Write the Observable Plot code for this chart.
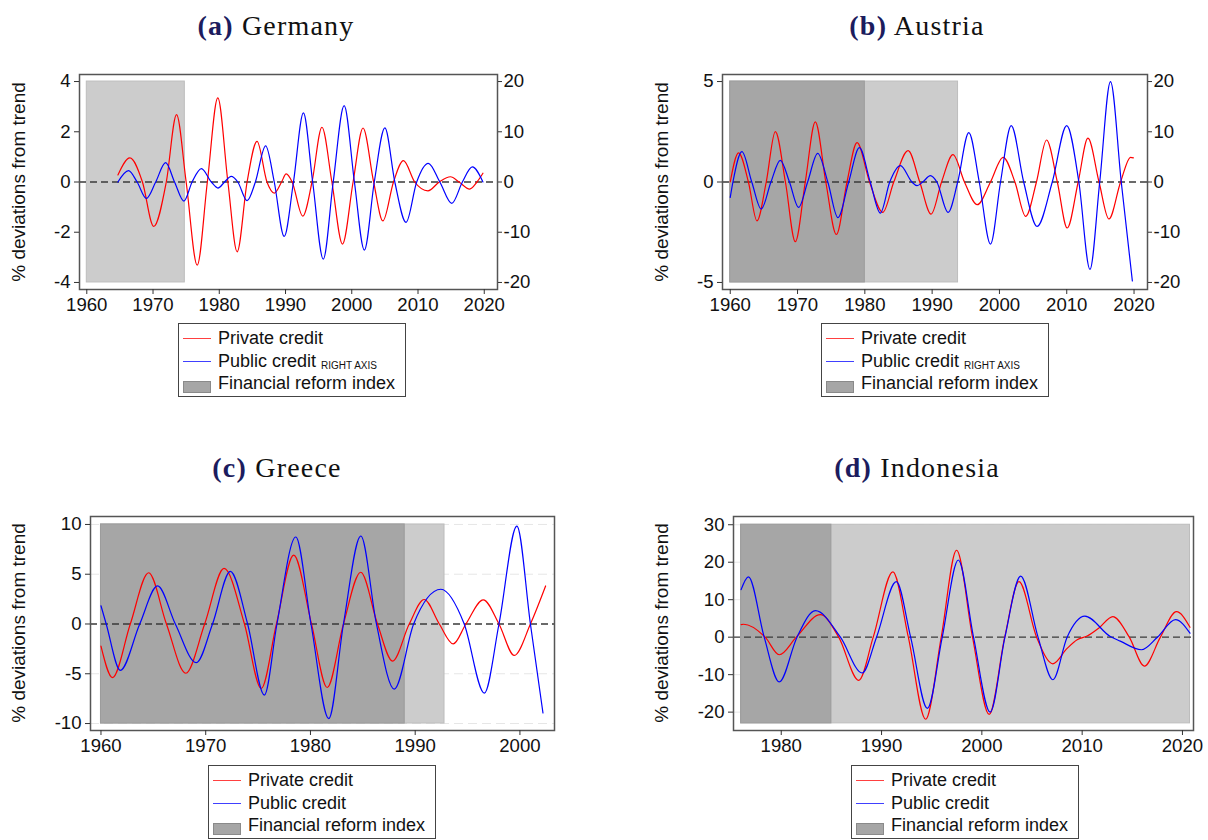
<!DOCTYPE html>
<html><head><meta charset="utf-8">
<script src="https://cdn.jsdelivr.net/npm/d3@7"></script>
<script src="https://cdn.jsdelivr.net/npm/@observablehq/plot@0.6"></script>
<style>
body{margin:0;background:#fff;}
#root{position:relative;width:1208px;height:840px;overflow:hidden;background:#fff;font-family:"Liberation Sans",Arial,sans-serif;color:#111;}
.panel{position:absolute;}
.title{position:absolute;font-family:"Liberation Serif","Times New Roman",serif;font-size:28px;line-height:28px;color:#111;white-space:nowrap;transform:translateX(-50%);letter-spacing:1.2px;}
.title b{color:#1c1c5e;}
.ytitle{position:absolute;font-size:19px;line-height:19px;color:#111;white-space:nowrap;transform:translate(-50%,-50%) rotate(-90deg);}
.legend{position:absolute;border:1px solid #444;background:#fff;width:226px;height:72px;z-index:5;font-size:18px;}
.legend .row{position:absolute;left:39px;white-space:nowrap;line-height:18px;}
.legend .sw{position:absolute;left:4px;width:28px;}
.legend small{font-size:10px;margin-left:5px;position:relative;top:2px;}
</style>
</head><body><div id="root"></div>
<script>
// ---------- data ----------
const xTicksFull = [1960, 1970, 1980, 1990, 2000, 2010, 2020];
const xTicksGreece = [1960, 1970, 1980, 1990, 2000];
const xTicksIndonesia = [1980, 1990, 2000, 2010, 2020];
const yTicksGermany = [-4, -2, 0, 2, 4];
const yTicksAustria = [-5, 0, 5];
const yTicksGreece = [-10, -5, 0, 5, 10];
const yTicksIndonesia = [-20, -10, 0, 10, 20, 30];
const rightTicks = [-20, -10, 0, 10, 20];

// Germany: private (left axis), public (right axis)
const germanyPrivate = [[1964.7,0.28],[1966.5,0.96],[1968.4,0],[1970.1,-1.77],[1972.0,0],[1973.55,2.68],[1975.0,0],[1976.67,-3.31],[1978.2,0],[1979.78,3.35],[1981.3,0],[1982.7,-2.78],[1984.2,0],[1985.7,1.62],[1987.2,0],[1988.3,-0.44],[1989.4,0],[1990.1,0.32],[1991.0,0],[1992.6,-1.36],[1994.0,0],[1995.5,2.18],[1997.0,0],[1998.6,-2.47],[2000.2,0],[2001.7,2.15],[2003.3,0],[2004.7,-1.55],[2006.3,0],[2007.8,0.85],[2009.5,0],[2011.5,-0.35],[2013.2,0],[2014.9,0.21],[2016.2,0],[2017.8,-0.28],[2018.9,0],[2019.8,0.35]];
const germanyPublic = [[1964.7,0],[1966.3,2.26],[1967.6,0],[1969.0,-3.26],[1970.4,0],[1971.9,3.85],[1973.25,0],[1974.66,-3.79],[1975.9,0],[1977.3,2.66],[1978.8,0],[1979.8,-1.2],[1980.8,0],[1981.8,1.13],[1982.8,0],[1984.2,-3.72],[1985.45,0],[1987.0,7.18],[1988.3,0],[1989.8,-10.83],[1991.2,0],[1992.7,13.75],[1994.1,0],[1995.7,-15.35],[1997.2,0],[1998.85,15.2],[2000.4,0],[2001.9,-13.55],[2003.4,0],[2005.0,10.76],[2006.5,0],[2008.2,-8.04],[2009.8,0],[2011.55,3.72],[2013.3,0],[2015.1,-4.25],[2016.7,0],[2018.2,3.0],[2019.8,0]];
const germanyReform = [[1960, 1974.8, "light"]];
const germanyBand = [-4, 4];

// Austria
const austriaPrivate = [[1960,0],[1961.24,1.45],[1962.7,0],[1963.97,-1.93],[1965.35,0],[1966.7,2.51],[1968.2,0],[1969.67,-2.97],[1971.15,0],[1972.64,2.99],[1974.2,0],[1975.77,-2.61],[1977.35,0],[1978.84,1.96],[1980.7,0],[1982.66,-1.51],[1984.3,0],[1986.43,1.56],[1988.16,0],[1989.85,-1.6],[1991.4,0],[1993.1,1.36],[1994.8,0],[1996.7,-1.13],[1998.67,0],[2000.55,1.23],[2002.3,0],[2003.9,-1.71],[2005.5,0],[2007.0,2.09],[2008.6,0],[2010.07,-2.29],[2011.7,0],[2013.15,2.18],[2014.8,0],[2016.27,-1.84],[2018.0,0],[2019.5,1.23],[2019.9,1.2]];
const austriaPublic = [[1960,-3.06],[1960.4,0],[1961.74,6.05],[1963.2,0],[1964.6,-5.38],[1966.05,0],[1967.44,4.32],[1968.8,0],[1970.16,-5.05],[1971.5,0],[1973.0,5.71],[1974.5,0],[1976.0,-7.11],[1977.6,0],[1979.19,6.84],[1980.8,0],[1982.3,-6.18],[1983.7,0],[1985.28,3.26],[1987.0,0],[1987.76,-0.73],[1988.6,0],[1989.75,1.26],[1990.7,0],[1992.37,-6.05],[1993.8,0],[1995.45,9.83],[1997.0,0],[1998.67,-12.36],[2000.16,0],[2001.75,11.23],[2003.6,0],[2005.6,-8.84],[2007.85,0],[2010.0,11.23],[2011.8,0],[2013.45,-17.4],[2014.9,0],[2016.5,20.0],[2018.1,0],[2019.75,-19.7]];
const austriaReform = [[1960, 1993.85, "light"], [1960, 1980, "dark"]];
const austriaBand = [-5, 5];

// Greece (both series on left axis)
const greecePrivate = [[1960,-2.23],[1961.1,-5.38],[1962.8,0],[1964.55,5.15],[1966.25,0],[1968.1,-4.95],[1969.9,0],[1971.75,5.58],[1973.7,0],[1975.3,-6.48],[1976.75,0],[1978.4,6.91],[1980.1,0],[1981.6,-6.38],[1983.15,0],[1984.8,5.2],[1986.4,0],[1987.84,-3.72],[1989.43,0],[1990.86,2.46],[1992.3,0],[1993.63,-2.0],[1994.84,0],[1996.5,2.43],[1998.0,0],[1999.46,-3.16],[2001.0,0],[2002.45,3.82]];
const greecePublic = [[1960,1.83],[1960.5,0],[1961.85,-4.65],[1963.7,0],[1965.4,3.82],[1967.1,0],[1969.1,-3.89],[1970.65,0],[1972.35,5.28],[1974.0,0],[1975.6,-7.14],[1976.8,0],[1978.6,8.74],[1980.05,0],[1981.75,-9.5],[1983.15,0],[1984.81,8.84],[1986.3,0],[1988.0,-6.54],[1989.85,0],[1992.45,3.49],[1994.68,0],[1996.6,-6.94],[1998.0,0],[1999.71,9.83],[2001.0,0],[2002.2,-8.94]];
const greeceReform = [[1960, 1992.8, "light"], [1960, 1989.0, "dark"]];
const greeceBand = [-10, 10];

// Indonesia (both series on left axis)
const indonesiaPrivate = [[1976.0,3.36],[1976.25,3.45],[1978.4,0],[1979.8,-4.69],[1981.5,0],[1983.9,6.0],[1985.73,0],[1987.73,-11.5],[1989.17,0],[1991.13,17.4],[1992.67,0],[1994.4,-21.9],[1995.95,0],[1997.48,23.2],[1999.07,0],[2000.73,-20.6],[2002.28,0],[2003.7,14.8],[2005.46,0],[2007.08,-7.1],[2008.5,-3.0],[2009.5,-0.7],[2010.5,0.3],[2011.7,2.5],[2013.05,5.5],[2014.7,0],[2016.2,-7.7],[2017.8,0],[2019.4,6.8],[2020.75,2.65]];
const indonesiaPublic = [[1976.0,12.7],[1976.73,16.1],[1978.3,0],[1979.8,-11.95],[1981.57,0],[1983.4,7.08],[1985.9,0],[1988.07,-9.56],[1989.5,0],[1991.47,14.8],[1992.9,0],[1994.57,-19.0],[1996.05,0],[1997.65,20.6],[1999.17,0],[2000.83,-20.0],[2002.3,0],[2003.87,16.3],[2005.6,0],[2007.08,-11.36],[2008.5,0],[2010.27,5.6],[2012.8,0.18],[2013.8,-1.06],[2015.9,-3.36],[2017.5,0],[2019.3,4.7],[2020.75,1.06]];
const indonesiaReform = [[1976.0, 2020.75, "light"], [1976.0, 1985.0, "dark"]];
const indonesiaBand = [-23, 30];

const titles = [["(a)", "Germany"], ["(b)", "Austria"], ["(c)", "Greece"], ["(d)", "Indonesia"]];
const seriesNames = ["Private credit", "Public credit", "Financial reform index"];

// ---------- drawing ----------
const root = document.getElementById("root");
const toObj = pairs => pairs.map(([year, value]) => ({year, value}));

function drawPanel(c) {
  const ratio = c.ratio || 1;
  const marks = [];
  if (c.grid) marks.push(Plot.ruleY(c.grid, {stroke: "#e6e6e6", strokeDasharray: "9,5", strokeWidth: 1}));
  const bands = c.reform.map(([start, end, level]) => ({start, end, level}));
  marks.push(Plot.rect(bands.filter(b => b.level === "light"), {x1: "start", x2: "end", y1: () => c.band[0], y2: () => c.band[1], fill: "#cccccc", stroke: "#bdbdbd", strokeWidth: 1}));
  marks.push(Plot.rect(bands.filter(b => b.level === "dark"), {x1: "start", x2: "end", y1: () => c.band[0], y2: () => c.band[1], fill: "#a6a6a6", stroke: "#9c9c9c", strokeWidth: 1}));
  marks.push(Plot.ruleY([0], {stroke: "#3a3a3a", strokeDasharray: "7,4", strokeWidth: 1.3}));
  marks.push(Plot.line(toObj(c.priv), {x: "year", y: "value", stroke: "#ff0000", strokeWidth: 1.2, curve: "monotone-x"}));
  marks.push(Plot.line(toObj(c.pub), {x: "year", y: d => d.value / ratio, stroke: "#0000ff", strokeWidth: 1.2, curve: "monotone-x"}));
  marks.push(Plot.frame({stroke: "#555", strokeWidth: 1.5}));
  marks.push(Plot.axisX({ticks: c.xTicks, tickSize: 5, tickPadding: 3, tickFormat: d => String(d), label: null, stroke: "#333"}));
  marks.push(Plot.axisY({ticks: c.yTicks, anchor: "left", tickSize: 5, tickPadding: 4, tickFormat: d => String(d), label: null, stroke: "#333"}));
  if (c.ratio) marks.push(Plot.axisY({ticks: rightTicks.map(t => t / ratio), anchor: "right", tickSize: 4, tickPadding: 2, tickFormat: d => String(Math.round(d * ratio)), label: null, stroke: "#333"}));
  const svg = Plot.plot({
    width: c.w, height: c.h,
    marginLeft: c.m[0], marginRight: c.m[1], marginTop: c.m[2], marginBottom: c.m[3],
    x: {domain: c.xDomain},
    y: {domain: c.yDomain},
    style: {fontSize: "18.6px", fontFamily: "'Liberation Sans', Arial, sans-serif", color: "#111", background: "transparent", overflow: "visible"},
    marks
  });
  const wrap = document.createElement("div");
  wrap.className = "panel";
  wrap.style.left = c.left + "px"; wrap.style.top = c.top + "px";
  wrap.appendChild(svg);
  root.appendChild(wrap);

  const t = document.createElement("div");
  t.className = "title";
  t.style.left = c.titleX + "px"; t.style.top = c.titleY + "px";
  t.innerHTML = `<b>${c.title[0]}</b> ${c.title[1]}`;
  root.appendChild(t);

  const yt = document.createElement("div");
  yt.className = "ytitle";
  yt.style.left = c.yTitleX + "px"; yt.style.top = c.yTitleY + "px";
  yt.textContent = "% deviations from trend";
  root.appendChild(yt);

  const lg = document.createElement("div");
  lg.className = "legend";
  lg.style.left = c.legend[0] + "px"; lg.style.top = c.legend[1] + "px";
  lg.innerHTML =
    `<div class="sw" style="top:14px;height:0;border-top:1.5px solid rgba(255,0,0,0.75)"></div>` +
    `<div class="row" style="top:5px">${seriesNames[0]}</div>` +
    `<div class="sw" style="top:37px;height:0;border-top:1.5px solid rgba(0,0,255,0.75)"></div>` +
    `<div class="row" style="top:28px">${seriesNames[1]}${c.ratio ? "<small>RIGHT AXIS</small>" : ""}</div>` +
    `<div class="sw" style="top:57px;height:10px;background:#a6a6a6;border:1px solid #8a8a8a;width:26px"></div>` +
    `<div class="row" style="top:50px">${seriesNames[2]}</div>`;
  root.appendChild(lg);
}

drawPanel({left: 0, top: 60, w: 604, h: 270, m: [79, 107, 14, 41], xDomain: [1958.9, 2022], yDomain: [-4.28, 4.28],
  xTicks: xTicksFull, yTicks: yTicksGermany, ratio: 5, priv: germanyPrivate, pub: germanyPublic, reform: germanyReform, band: germanyBand,
  title: titles[0], titleX: 276, titleY: 12, yTitleX: 18, yTitleY: 181.5, legend: [178, 323]});
drawPanel({left: 604, top: 60, w: 604, h: 270, m: [118, 61, 14, 41], xDomain: [1958.85, 2022], yDomain: [-5.35, 5.35],
  xTicks: xTicksFull, yTicks: yTicksAustria, ratio: 4, priv: austriaPrivate, pub: austriaPublic, reform: austriaReform, band: austriaBand,
  title: titles[1], titleX: 917, titleY: 12, yTitleX: 661, yTitleY: 181.5, legend: [821, 323]});
drawPanel({left: 0, top: 500, w: 604, h: 270, m: [90, 50, 16, 40], xDomain: [1959.0, 2003.3], yDomain: [-10.7, 10.8],
  xTicks: xTicksGreece, yTicks: yTicksGreece, priv: greecePrivate, pub: greecePublic, reform: greeceReform, band: greeceBand, grid: [-10, -5, 5, 10],
  title: titles[2], titleX: 277, titleY: 454, yTitleX: 18, yTitleY: 623, legend: [208, 765]});
drawPanel({left: 604, top: 500, w: 604, h: 270, m: [129, 15, 16, 40], xDomain: [1975.24, 2021.1], yDomain: [-24.9, 32.2],
  xTicks: xTicksIndonesia, yTicks: yTicksIndonesia, priv: indonesiaPrivate, pub: indonesiaPublic, reform: indonesiaReform, band: indonesiaBand, grid: [-20, -10, 10, 20, 30],
  title: titles[3], titleX: 917, titleY: 454, yTitleX: 661, yTitleY: 623, legend: [851, 765]});
</script>
</body></html>
